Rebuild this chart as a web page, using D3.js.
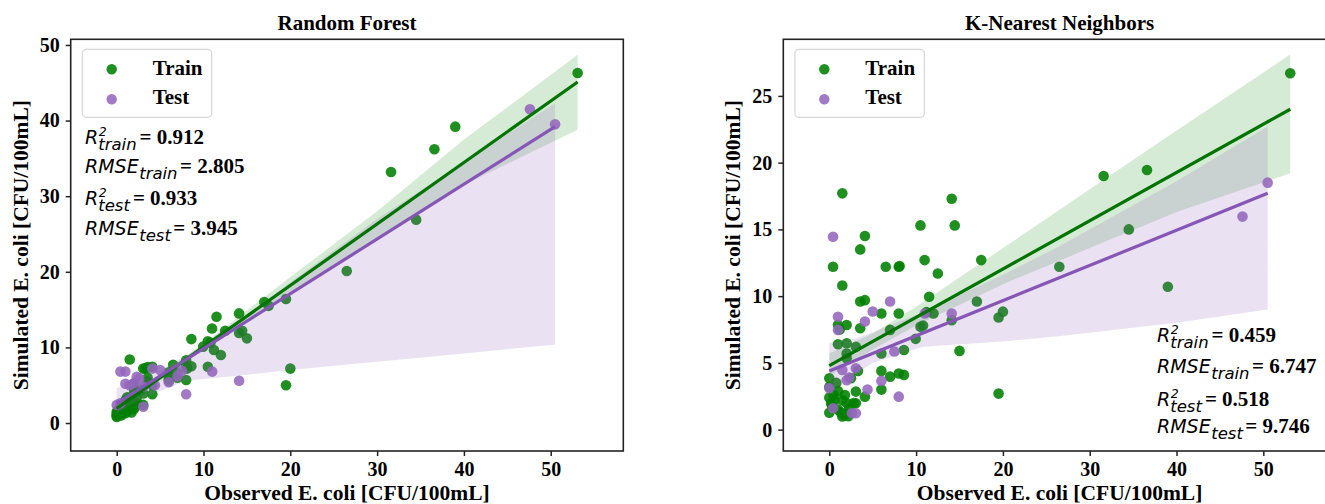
<!DOCTYPE html>
<html>
<head>
<meta charset="utf-8">
<script src="https://cdn.jsdelivr.net/npm/d3@7"></script>
<style>
  html, body { margin: 0; padding: 0; background: #fff; }
  svg { display: block; }
  .serif { font-family: "Liberation Serif", "Times New Roman", serif; font-weight: bold; }
  .math { font-family: "DejaVu Sans", sans-serif; font-style: italic; }
</style>
</head>
<body>
<svg id="chart" width="1325" height="504"></svg>
<script>
// ---- Observed E. coli (shared by both models) ----
const trainObserved = [53.1, 39.0, 36.6, 31.6, 34.5, 26.5, 20.0, 19.5, 19.5, 17.5, 17.0, 15.0,
  14.1, 14.45, 10.5, 10.98, 11.5, 12.0, 12.5, 14.1, 10.5, 9.95, 11.2, 10.8,
  8.0, 8.1, 6.5, 6.0, 7.0, 8.6, 8.6, 8.0, 7.0, 6.0, 6.0, 6.0, 8.0,
  0.0, 0.0, 0.0, 0.0, 0.2, 0.43, 0.5, 1.0, 1.0, 1.0, 1.0, 1.2, 1.5, 1.5, 1.5, 1.5, 1.7,
  2.0, 2.0, 2.0, 2.0, 2.0, 2.0, 2.3, 2.5, 3.06, 3.06, 3.06, 3.3, 3.56, 3.56, 3.56, 4.1, 4.1, 4.1,
  0.3, 0.8, 1.3, 1.8, 2.2, 0.6, 2.8];
const trainRF = [46.3, 39.2, 36.2, 33.2, 26.9, 20.1, 7.2, 16.4, 5.0, 15.5, 16.0, 11.2,
  14.5, 12.2, 10.8, 12.5, 14.06, 9.0, 12.2, 11.9, 7.45, 10.1, 9.65, 10.6,
  8.3, 7.2, 7.7, 6.3, 6.6, 11.1, 7.5, 5.7, 6.0, 5.9, 6.7, 5.6, 7.6,
  1.0, 0.8, 1.5, 1.2, 1.8, 2.0, 1.0, 2.5, 3.0, 1.3, 1.6, 3.4, 8.4, 3.3, 1.9, 2.7, 1.4,
  4.0, 4.5, 5.2, 2.8, 1.9, 2.2, 3.3, 2.5, 7.2, 3.9, 2.4, 7.2, 5.5, 7.4, 6.0, 3.8, 7.45, 5.0,
  1.1, 2.1, 1.7, 2.0, 2.6, 1.4, 4.4];
const trainKNN = [26.7, 10.7, 19.45, 19.0, 15.0, 12.2, 8.84, 8.4, 2.7, 12.7, 9.6, 5.9,
  17.3, 15.3, 15.3, 12.7, 9.96, 8.7, 11.7, 8.2, 7.7, 6.8, 8.8, 7.8,
  12.2, 12.25, 12.2, 8.7, 7.47, 5.97, 4.1, 4.2, 3.97, 4.4, 5.7, 3.0, 8.7,
  3.85, 2.4, 1.26, 3.2, 2.0, 12.2, 2.6, 7.84, 6.4, 2.9, 1.5, 7.5, 17.7, 10.8, 0.98, 2.2, 1.1,
  7.84, 6.47, 5.7, 5.35, 2.0, 1.2, 1.6, 3.85, 6.2, 2.85, 1.98, 4.4, 13.5, 9.6, 7.6, 14.5, 9.7, 2.47,
  1.8, 3.5, 1.3, 2.6, 1.0, 2.2, 2.0];

const testObserved = [50.5, 47.6, 14.1, 11.0, 8.0, 7.5, 7.0, 6.0, 5.0, 4.4, 4.1, 3.06,
  2.6, 3.06, 2.0, 1.5, 1.0, 1.0, 0.43, 0.43, 0.0, 2.3];
const testRF = [39.5, 41.5, 5.6, 6.8, 3.8, 6.9, 6.2, 5.4, 7.0, 5.0, 7.2, 2.16,
  5.9, 4.8, 5.3, 5.0, 6.8, 5.2, 6.8, 2.6, 2.4, 6.1];
const testKNN = [18.5, 15.96, 8.7, 8.7, 2.47, 5.85, 9.6, 3.65, 8.85, 3.0, 8.1, 4.6,
  1.23, 1.23, 3.7, 4.47, 7.47, 8.46, 14.45, 1.6, 3.1, 3.9];

// ---- Fitted regression lines (observed range endpoints) ----
const rfTrainFit = { x: [0, 53.1], y: [1.94, 45.1] };
const rfTestFit = { x: [0, 50.5], y: [2.6, 39.2] };
const knnTrainFit = { x: [0, 53.1], y: [4.8, 24.0] };
const knnTestFit = { x: [0, 50.5], y: [4.4, 17.7] };

// ---- 95% confidence bands of the fits ----
const rfTrainBand = { x: [0, 5, 10, 20, 30, 40, 53.1],
  lo: [1.2, 5.6, 9.7, 17.3, 24.6, 31.5, 38.8], hi: [2.7, 6.4, 10.5, 19.3, 28.0, 37.5, 48.7] };
const rfTestBand = { x: [0, 3, 8, 15, 20, 30, 40, 50.5],
  lo: [1.3, 3.3, 5.6, 6.4, 7.0, 8.1, 9.2, 10.4], hi: [4.6, 5.8, 8.9, 14.4, 18.6, 27.0, 34.5, 42.3] };
const knnTrainBand = { x: [0, 5, 10, 20, 30, 40, 53.1],
  lo: [4.0, 6.0, 7.8, 10.9, 13.6, 16.3, 19.2], hi: [5.7, 7.2, 9.2, 13.6, 18.0, 22.4, 28.1] };
const knnTestBand = { x: [0, 3, 5, 10.8, 20, 26.4, 40, 50.5],
  lo: [2.8, 4.2, 5.0, 6.2, 6.6, 7.0, 8.0, 9.0], hi: [6.5, 6.8, 7.3, 8.8, 11.6, 13.7, 18.6, 22.7] };

// ---- Axis ticks and text ----
const xTicks = [0, 10, 20, 30, 40, 50];
const rfYTicks = [0, 10, 20, 30, 40, 50];
const knnYTicks = [0, 5, 10, 15, 20, 25];
const rfStats = [["R", "2", "train", "0.912"], ["RMSE", "", "train", "2.805"],
                 ["R", "2", "test", "0.933"], ["RMSE", "", "test", "3.945"]];
const knnStats = [["R", "2", "train", "0.459"], ["RMSE", "", "train", "6.747"],
                  ["R", "2", "test", "0.518"], ["RMSE", "", "test", "9.746"]];
const legendLabels = ["Train", "Test"];

const GREEN = "#008000", PURPLE = "#9467bd";
const GREEN_LINE = "#007300", PURPLE_LINE = "#8656b6";
const svg = d3.select("#chart");

function panel(opt) {
  const { left, right, top, bottom, xDomain, yDomain, yTicks, title } = opt;
  const x = d3.scaleLinear().domain(xDomain).range([left, right]);
  const y = d3.scaleLinear().domain(yDomain).range([bottom, top]);
  const g = svg.append("g");

  const clipId = "clip" + Math.round(left);
  svg.append("clipPath").attr("id", clipId).append("rect")
    .attr("x", left).attr("y", top).attr("width", right - left).attr("height", bottom - top);
  const plot = g.append("g").attr("clip-path", `url(#${clipId})`);

  const bandArea = d3.area().x(d => x(d.x)).y0(d => y(d.lo)).y1(d => y(d.hi));
  const toRows = b => b.x.map((v, i) => ({ x: v, lo: b.lo[i], hi: b.hi[i] }));

  // scatter first, then its confidence band, as each layer is added
  function layer(xs, ys, band, color, bandOpacity) {
    plot.append("g").selectAll("circle").data(xs.map((v, i) => [v, ys[i]])).join("circle")
      .attr("cx", d => x(d[0])).attr("cy", d => y(d[1])).attr("r", 5.3)
      .attr("fill", color).attr("fill-opacity", 0.88);
    plot.append("path").datum(toRows(band)).attr("d", bandArea)
      .attr("fill", color).attr("fill-opacity", bandOpacity);
  }
  layer(trainObserved, opt.trainY, opt.trainBand, GREEN, 0.16);
  layer(testObserved, opt.testY, opt.testBand, PURPLE, 0.2);

  const line = d3.line().x(d => x(d[0])).y(d => y(d[1]));
  [[opt.trainFit, GREEN_LINE], [opt.testFit, PURPLE_LINE]].forEach(([f, c]) => {
    plot.append("path").datum(f.x.map((v, i) => [v, f.y[i]])).attr("d", line)
      .attr("fill", "none").attr("stroke", c).attr("stroke-width", 3.2);
  });

  // axes
  const xAxis = g.append("g").attr("transform", `translate(0,${bottom})`)
    .call(d3.axisBottom(x).tickValues(xTicks).tickSize(5).tickPadding(6).tickFormat(d3.format("d")));
  const yAxis = g.append("g").attr("transform", `translate(${left},0)`)
    .call(d3.axisLeft(y).tickValues(yTicks).tickSize(5).tickPadding(6).tickFormat(d3.format("d")));
  [xAxis, yAxis].forEach(a => {
    a.select(".domain").remove();
    a.selectAll("line").attr("stroke", "#222").attr("stroke-width", 1.5);
    a.selectAll("text").attr("class", "serif").attr("font-size", 20).attr("fill", "#000");
  });
  g.append("rect").attr("x", left).attr("y", top).attr("width", right - left).attr("height", bottom - top)
    .attr("fill", "none").attr("stroke", "#222").attr("stroke-width", 1.6);

  // titles and labels
  g.append("text").attr("class", "serif").attr("x", (left + right) / 2).attr("y", 30)
    .attr("text-anchor", "middle").attr("font-size", 21).text(title);
  g.append("text").attr("class", "serif").attr("x", (left + right) / 2).attr("y", 500)
    .attr("text-anchor", "middle").attr("font-size", 21.5).text("Observed E. coli [CFU/100mL]");
  g.append("text").attr("class", "serif")
    .attr("transform", `translate(${left - 43},${(top + bottom) / 2}) rotate(-90)`)
    .attr("text-anchor", "middle").attr("font-size", 21.5).text("Simulated E. coli [CFU/100mL]");

  // legend
  const lg = g.append("g");
  lg.append("rect").attr("x", left + 11.6).attr("y", top + 10).attr("width", 129.4).attr("height", 68)
    .attr("rx", 4).attr("fill", "#fff").attr("fill-opacity", 0.8).attr("stroke", "#d6d6d6").attr("stroke-width", 1.2);
  legendLabels.forEach((lab, i) => {
    lg.append("circle").attr("cx", left + 41).attr("cy", top + 30 + i * 30).attr("r", 5.2)
      .attr("fill", i ? PURPLE : GREEN).attr("fill-opacity", 0.88);
    lg.append("text").attr("class", "serif").attr("x", left + 82).attr("y", top + 36 + i * 29)
      .attr("font-size", 21).text(lab);
  });

  // fit statistics: italic symbol with stacked superscript / subscript, then the value
  const sg = g.append("g");
  opt.stats.forEach((s, i) => {
    const bx = opt.statX, by = opt.statY[i];
    const base = sg.append("text").attr("class", "math").attr("x", bx).attr("y", by)
      .attr("font-size", 19).text(s[0]);
    const w = base.node().getComputedTextLength();
    let end = bx + w;
    if (s[1]) {
      const sup = sg.append("text").attr("class", "math").attr("font-style", "normal")
        .attr("x", bx + w + 0.5).attr("y", by - 8.5).attr("font-size", 12.5).text(s[1]);
      end = Math.max(end, bx + w + 0.5 + sup.node().getComputedTextLength());
    }
    const sub = sg.append("text").attr("class", "math")
      .attr("x", bx + w + (s[1] ? 0 : 0.5)).attr("y", by + 5.5).attr("font-size", 16.5).text(s[2]);
    end = Math.max(end, bx + w + sub.node().getComputedTextLength());
    sg.append("text").attr("class", "serif").attr("x", end + 3).attr("y", by)
      .attr("font-size", 21).text("= " + s[3]);
  });
}

panel({ left: 70.7, right: 623.3, top: 39.3, bottom: 451, xDomain: [-5.3, 58.36], yDomain: [-3.7, 50.75],
  yTicks: rfYTicks, title: "Random Forest", trainY: trainRF, testY: testRF,
  trainFit: rfTrainFit, testFit: rfTestFit, trainBand: rfTrainBand, testBand: rfTestBand,
  stats: rfStats, statX: 85, statY: [144, 173, 205, 235] });
panel({ left: 783.3, right: 1335.9, top: 39.3, bottom: 451, xDomain: [-5.3, 58.36], yDomain: [-1.6, 29.24],
  yTicks: knnYTicks, title: "K-Nearest Neighbors", trainY: trainKNN, testY: testKNN,
  trainFit: knnTrainFit, testFit: knnTestFit, trainBand: knnTrainBand, testBand: knnTestBand,
  stats: knnStats, statX: 1157, statY: [342, 373, 406, 433] });
</script>
</body>
</html>
